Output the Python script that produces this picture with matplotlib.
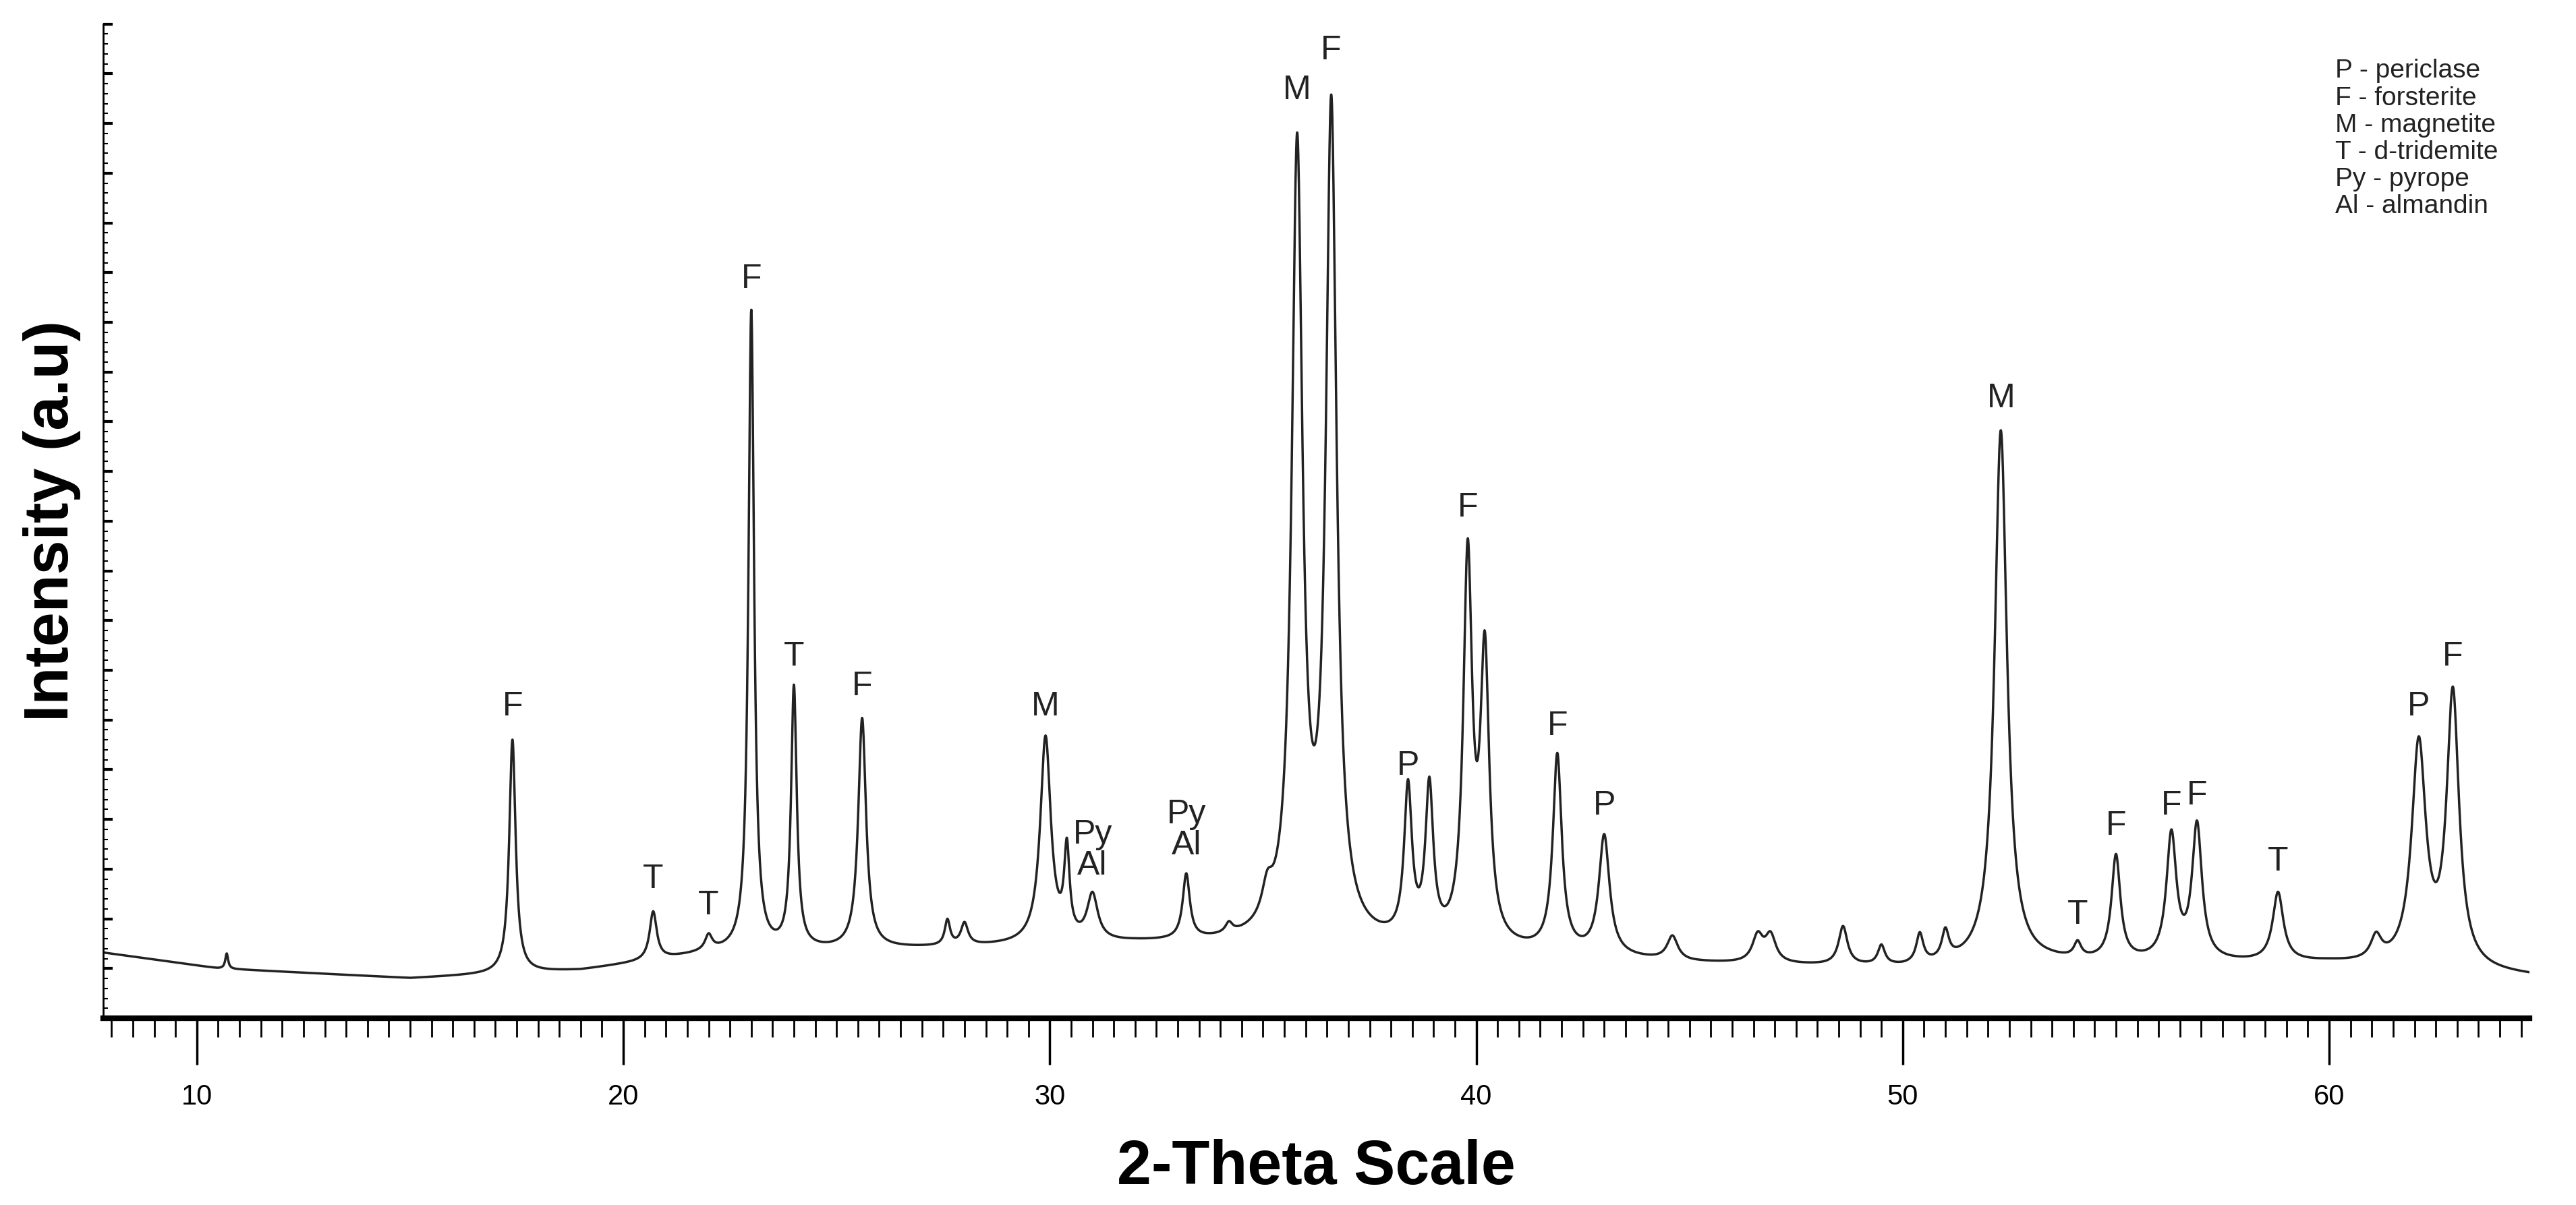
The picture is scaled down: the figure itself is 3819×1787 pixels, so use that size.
import numpy as np
import matplotlib
matplotlib.use("Agg")
import matplotlib.pyplot as plt
from matplotlib.ticker import MultipleLocator, NullFormatter

plt.rcParams['font.family'] = ['Liberation Sans', 'DejaVu Sans']

# Peak data (2-theta, total intensity at peak, FWHM)
peak_pos = [10.7, 17.4, 20.7, 22.0, 23.0, 24.0, 25.6, 27.6, 28.0, 29.9, 30.4, 31.0, 33.2, 34.2,
            35.1, 35.8, 36.6, 38.4, 38.9, 39.8, 40.2, 41.9, 43.0, 44.6, 46.6, 46.9, 48.6, 49.5,
            50.4, 51.0, 52.3, 54.1, 55.0, 56.3, 56.9, 58.8, 61.1, 62.1, 62.9]
peak_int = [6.5, 28.0, 10.6, 8.0, 71.0, 33.0, 30.0, 9.6, 9.3, 28.0, 16.0, 12.0, 14.0, 8.5,
            10.5, 86.0, 90.0, 22.0, 22.0, 45.0, 35.0, 26.0, 18.0, 8.0, 8.0, 8.0, 9.0, 7.0,
            8.0, 8.0, 59.0, 7.0, 16.0, 18.0, 19.0, 12.4, 7.5, 27.0, 32.0]
peak_fwhm = [0.08, 0.18, 0.2, 0.2, 0.16, 0.16, 0.22, 0.15, 0.2, 0.3, 0.15, 0.3, 0.2, 0.2,
             0.3, 0.3, 0.3, 0.22, 0.22, 0.25, 0.25, 0.25, 0.3, 0.3, 0.3, 0.3, 0.25, 0.2,
             0.2, 0.2, 0.35, 0.2, 0.25, 0.28, 0.28, 0.3, 0.3, 0.4, 0.35]
bg_x = [7.8, 10.5, 15.0, 19.0, 22.0, 27.0, 32.0, 35.0, 41.0, 45.0, 50.0, 53.5, 60.0, 64.7]
bg_y = [6.6, 5.0, 4.0, 4.8, 6.5, 7.0, 7.5, 7.5, 6.5, 5.5, 5.0, 5.5, 5.5, 4.2]

label_text = ["F", "T", "T", "F", "T", "F", "M", "Py\nAl", "Py\nAl", "M", "F", "P", "F", "F", "P",
              "M", "T", "F", "F", "F", "T", "P", "F"]
label_x = [17.4, 20.7, 22.0, 23.0, 24.0, 25.6, 29.9, 31.0, 33.2, 35.8, 36.6, 38.4, 39.8, 41.9, 43.0,
           52.3, 54.1, 55.0, 56.3, 56.9, 58.8, 62.1, 62.9]
label_y = [28.0, 10.6, 8.0, 71.0, 33.0, 30.0, 28.0, 12.0, 14.0, 90.0, 94.0, 22.0, 48.0, 26.0, 18.0,
           59.0, 7.0, 16.0, 18.0, 19.0, 12.4, 28.0, 33.0]

legend_lines = ["P - periclase", "F - forsterite", "M - magnetite", "T - d-tridemite",
                "Py - pyrope", "Al - almandin"]

x = np.linspace(7.8, 64.7, 8000)
bg = np.interp(x, bg_x, bg_y)
y = bg.copy()
for p, h, w in zip(peak_pos, peak_int, peak_fwhm):
    hb = h - np.interp(p, bg_x, bg_y)
    g = w / 2
    y += hb * g**2 / ((x - p)**2 + g**2)

fig = plt.figure(figsize=(38.19, 17.87), dpi=100)
ax = fig.add_axes([0.040, 0.155, 0.942, 0.825])
ax.plot(x, y, color="#222222", lw=2.5)
ax.set_xlim(7.8, 64.7)
ax.set_ylim(0, 100)
for s in ["top", "right"]:
    ax.spines[s].set_visible(False)
ax.spines["bottom"].set_linewidth(6)
ax.spines["left"].set_linewidth(2)
ax.xaxis.set_major_locator(MultipleLocator(10))
ax.xaxis.set_minor_locator(MultipleLocator(0.5))
ax.tick_params(axis="x", which="major", length=50, width=2.5, labelsize=30, pad=20)
ax.tick_params(axis="x", which="minor", length=20, width=2)
ax.yaxis.set_major_locator(MultipleLocator(5))
ax.yaxis.set_minor_locator(MultipleLocator(1))
ax.yaxis.set_major_formatter(NullFormatter())
ax.tick_params(axis="y", which="major", length=10, width=3, direction="in")
ax.tick_params(axis="y", which="minor", length=5, width=1.5, direction="in")
ax.set_xlabel("2-Theta Scale", fontsize=66, fontweight="bold", labelpad=30)
ax.set_ylabel("Intensity (a.u)", fontsize=66, fontweight="bold", labelpad=20)

for t, lx, ly in zip(label_text, label_x, label_y):
    ax.text(lx, ly + 1.8, t, ha="center", va="bottom", fontsize=36, color="#222222",
            linespacing=1.0)

ax.text(0.92, 0.965, "\n".join(legend_lines), transform=ax.transAxes, ha="left", va="top",
        fontsize=28, color="#222222", linespacing=1.15)

fig.savefig("out.png", dpi=100)
